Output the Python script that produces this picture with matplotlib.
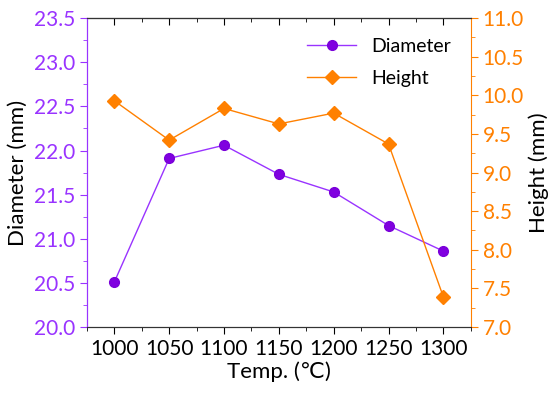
import matplotlib
matplotlib.use("Agg")
import matplotlib.pyplot as plt
from matplotlib.ticker import MultipleLocator

plt.rcParams["font.family"] = ["Lato", "DejaVu Sans"]

temps = [1000, 1050, 1100, 1150, 1200, 1250, 1300]
diameter = [20.51, 21.91, 22.06, 21.73, 21.53, 21.15, 20.86]
height = [9.93, 9.42, 9.83, 9.63, 9.77, 9.37, 7.39]

PURPLE = "#9933FF"
ORANGE = "#FF8000"

fig = plt.figure(figsize=(5.5, 3.94), dpi=100)
ax = fig.add_axes([0.158, 0.170, 0.698, 0.784])
ax2 = ax.twinx()

l1, = ax.plot(temps, diameter, color=PURPLE, linewidth=1.0, marker="o",
              markersize=7, markerfacecolor="#8000E0", markeredgecolor="#7A00D9",
              label="Diameter")
l2, = ax2.plot(temps, height, color=ORANGE, linewidth=1.0, marker="D",
               markersize=7, markerfacecolor=ORANGE, markeredgecolor=ORANGE,
               label="Height")

ax.set_xlim(975, 1325)
ax.set_ylim(20.0, 23.5)
ax2.set_ylim(7.0, 11.0)

ax.xaxis.set_major_locator(MultipleLocator(50))
ax.xaxis.set_minor_locator(MultipleLocator(25))
ax.yaxis.set_major_locator(MultipleLocator(0.5))
ax.yaxis.set_minor_locator(MultipleLocator(0.25))
ax2.yaxis.set_major_locator(MultipleLocator(0.5))
ax2.yaxis.set_minor_locator(MultipleLocator(0.25))
ax.yaxis.set_major_formatter(plt.FormatStrFormatter("%.1f"))
ax2.yaxis.set_major_formatter(plt.FormatStrFormatter("%.1f"))

# bottom ticks point out, top ticks point in
ax.tick_params(axis="x", which="both", direction="out", labelsize=15)
ax.tick_params(axis="x", which="major", length=5)
ax.tick_params(axis="x", which="minor", length=3)
ax.tick_params(axis="y", which="major", colors=PURPLE, length=5, labelsize=15)
ax.tick_params(axis="y", which="minor", colors=PURPLE, length=3)
ax2.tick_params(axis="y", which="major", colors=ORANGE, length=5, labelsize=15)
ax2.tick_params(axis="y", which="minor", colors=ORANGE, length=3)

top = ax.secondary_xaxis("top")
top.xaxis.set_major_locator(MultipleLocator(50))
top.xaxis.set_minor_locator(MultipleLocator(25))
top.tick_params(axis="x", which="both", direction="in", labeltop=False)
top.tick_params(axis="x", which="major", length=5)
top.tick_params(axis="x", which="minor", length=3)
top.spines["top"].set_color("#333333")

ax.spines["left"].set_color(PURPLE)
ax2.spines["left"].set_color(PURPLE)
ax2.spines["right"].set_color(ORANGE)
ax.spines["right"].set_visible(False)
for sp in ("top", "bottom"):
    ax.spines[sp].set_color("#333333")
    ax2.spines[sp].set_color("#333333")

ax.set_xlabel("Temp. (℃)", fontsize=16, labelpad=2)
ax.set_ylabel("Diameter (mm)", fontsize=16, labelpad=4)
ax2.set_ylabel("Height (mm)", fontsize=16, labelpad=3)

ax2.legend([l1, l2], ["Diameter", "Height"], loc="upper right", frameon=False,
           fontsize=14, handlelength=2.5, borderaxespad=0.6, labelspacing=0.8)

fig.savefig("out.png", dpi=100)
